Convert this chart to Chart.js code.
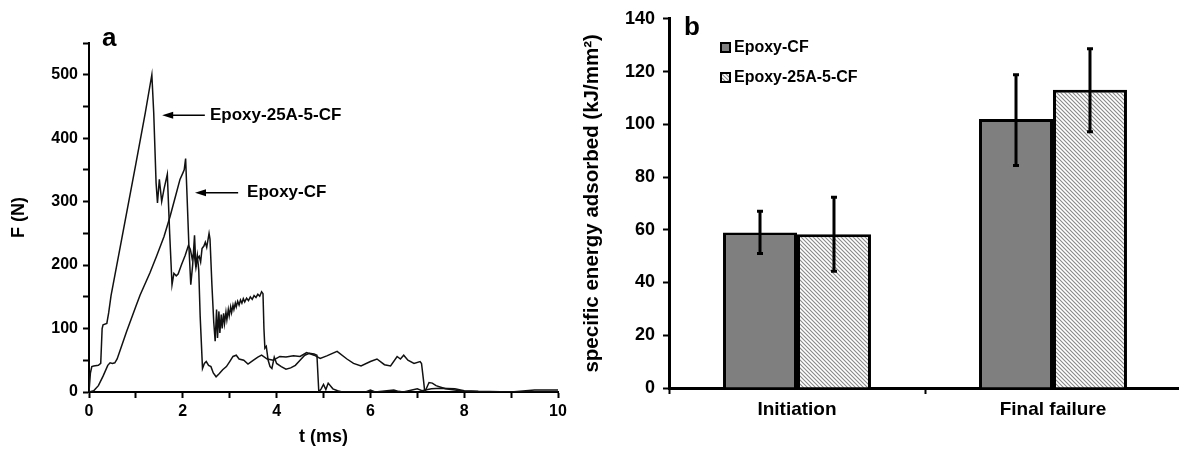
<!DOCTYPE html>
<html>
<head>
<meta charset="utf-8">
<script src="https://cdn.jsdelivr.net/npm/chart.js@4.4.0/dist/chart.umd.min.js"></script>
<style>
  body { margin: 0; width: 1179px; height: 449px; overflow: hidden; background: #fff; position: relative; }
  #forceWrap { position: absolute; left: 0; top: 0; }
  #energyWrap { position: absolute; left: 560px; top: 0; }
</style>
</head>
<body>
<div id="forceWrap"><canvas id="force-chart" width="580" height="449"></canvas></div>
<div id="energyWrap"><canvas id="energy-chart" width="640" height="449"></canvas></div>
<script>
// Panel a: force vs time
const a25Time = [
  0, 0.03, 0.06, 0.1, 0.2, 0.25, 0.28, 0.3, 0.38, 0.42, 0.47, 0.7, 1.0, 1.2, 1.34,
  1.38, 1.43, 1.46, 1.5, 1.55, 1.6, 1.67, 1.72, 1.77, 1.81, 1.86, 1.9, 1.97, 2.05,
  2.12, 2.16, 2.2, 2.24, 2.28, 2.31, 2.35, 2.38, 2.41, 2.45, 2.48, 2.51, 2.56, 2.58,
  2.62, 2.66, 2.69, 2.72, 2.74, 2.77, 2.79, 2.82, 2.84, 2.87, 2.89, 2.92, 2.94, 2.97,
  2.99, 3.02, 3.04, 3.07, 3.09, 3.12, 3.14, 3.17, 3.2, 3.23, 3.26, 3.29, 3.32, 3.36,
  3.4, 3.44, 3.48, 3.52, 3.56, 3.6, 3.64, 3.68, 3.71, 3.73, 3.75, 3.78, 3.82, 3.86,
  3.9, 3.95, 4.0, 4.1, 4.2, 4.3, 4.4, 4.5, 4.6, 4.7, 4.8, 4.86, 4.9, 4.95, 5.0,
  5.05, 5.1, 5.2, 5.3, 5.4, 5.9, 6.0, 6.1, 6.5, 6.6, 6.7, 7.0, 7.1, 7.3, 7.5, 7.8,
  8.0, 8.3, 9.0, 9.5, 10,
];
const a25Force = [
  0, 30, 40, 41, 42, 45, 100, 106, 108, 125, 152, 242, 360, 440, 500,
  440, 330, 298, 335, 300, 320, 343, 250, 169, 187, 183, 186, 200, 215,
  231, 225, 210, 220, 196, 210, 214, 205, 226, 230, 236, 228, 250, 241,
  170, 110, 80, 130, 85, 127, 93, 122, 100, 124, 108, 126, 114, 130,
  120, 134, 125, 137, 130, 140, 134, 143, 137, 145, 140, 147, 142, 148,
  144, 150, 146, 152, 149, 154, 151, 158, 155, 100, 69, 72, 50, 40,
  37, 55, 45, 40, 36, 38, 42, 50, 58, 61, 60, 58, 0, 5, 12,
  4, 14, 5, 2, 0, 0, 3, 0, 3, 1, 0, 5, 2, 5, 6, 5,
  2, 1, 0, 3, 3,
];
const cfTime = [
  0, 0.1, 0.2, 0.3, 0.4, 0.45, 0.5, 0.55, 0.6, 0.8, 1.0, 1.09, 1.3, 1.44, 1.6,
  1.73, 1.85, 1.94, 2.0, 2.03, 2.06, 2.09, 2.13, 2.17, 2.21, 2.25, 2.28, 2.31,
  2.34, 2.37, 2.42, 2.46, 2.5, 2.55, 2.6, 2.65, 2.71, 2.78, 2.85, 2.93, 3.0, 3.07,
  3.14, 3.2, 3.3, 3.39, 3.5, 3.6, 3.68, 3.8, 3.93, 4.07, 4.2, 4.36, 4.5, 4.64,
  4.8, 4.93, 5.07, 5.29, 5.5, 5.64, 5.8, 6.0, 6.14, 6.3, 6.43, 6.57, 6.64, 6.71,
  6.8, 6.93, 7.06, 7.09, 7.13, 7.16, 7.25, 7.32, 7.4, 7.6, 7.8, 8.0, 8.5, 10,
];
const cfForce = [
  0, 2, 10, 25, 42, 46, 45, 46, 52, 95, 135, 153, 188, 214, 245,
  277, 310, 335, 345, 350, 368, 310, 230, 169, 200, 247, 197, 215,
  192, 120, 37, 45, 48, 42, 40, 30, 24, 29, 35, 40, 48, 56,
  58, 52, 50, 44, 50, 55, 58, 52, 50, 56, 55, 57, 56, 62,
  58, 53, 57, 64, 52, 45, 41, 48, 52, 43, 41, 56, 52, 58,
  50, 45, 48, 45, 20, 0, 15, 14, 10, 5, 3, 1, 0, 0,
];

// Panel b: specific energy
const stages = ["Initiation", "Final failure"];
const cfEnergy = [59, 102];
const cfEnergyLow = [51, 84.4];
const cfEnergyHigh = [67, 118.8];
const a25Energy = [58.3, 113.1];
const a25EnergyLow = [44.3, 97.2];
const a25EnergyHigh = [72.3, 128.6];

const fontFamily = "'Liberation Sans', Arial, sans-serif";

const curveNotes = [
  { text: "Epoxy-25A-5-CF", tipT: 1.56, tailT: 2.47, textT: 2.58, force: 436 },
  { text: "Epoxy-CF", tipT: 2.26, tailT: 3.18, textT: 3.37, force: 314 },
];

const panelLetter = {
  id: "panelLetter",
  afterDraw(chart, args, opts) {
    const ctx = chart.ctx;
    ctx.save();
    ctx.font = "bold 26px " + fontFamily;
    ctx.fillStyle = "#000";
    ctx.fillText(opts.text, opts.x, opts.y);
    ctx.restore();
  },
};

const arrowLabels = {
  id: "arrowLabels",
  afterDatasetsDraw(chart) {
    const { ctx, scales: { x, y } } = chart;
    ctx.save();
    ctx.strokeStyle = "#000";
    ctx.fillStyle = "#000";
    ctx.lineWidth = 1.5;
    ctx.font = "bold 17px " + fontFamily;
    ctx.textBaseline = "middle";
    curveNotes.forEach((n) => {
      const tipX = x.getPixelForValue(n.tipT);
      const tailX = x.getPixelForValue(n.tailT);
      const py = y.getPixelForValue(n.force);
      ctx.beginPath();
      ctx.moveTo(tailX, py);
      ctx.lineTo(tipX + 8, py);
      ctx.stroke();
      ctx.beginPath();
      ctx.moveTo(tipX, py);
      ctx.lineTo(tipX + 11, py - 3.5);
      ctx.lineTo(tipX + 11, py + 3.5);
      ctx.closePath();
      ctx.fill();
      ctx.fillText(n.text, x.getPixelForValue(n.textT), py);
    });
    ctx.restore();
  },
};

const errorBars = {
  id: "errorBars",
  afterDatasetsDraw(chart) {
    const { ctx, scales: { y } } = chart;
    ctx.save();
    ctx.strokeStyle = "#000";
    ctx.lineWidth = 3;
    chart.data.datasets.forEach((ds, di) => {
      chart.getDatasetMeta(di).data.forEach((bar, i) => {
        const top = y.getPixelForValue(ds.errHigh[i]);
        const bot = y.getPixelForValue(ds.errLow[i]);
        ctx.beginPath();
        ctx.moveTo(bar.x, top);
        ctx.lineTo(bar.x, bot);
        ctx.moveTo(bar.x - 3, top);
        ctx.lineTo(bar.x + 3, top);
        ctx.moveTo(bar.x - 3, bot);
        ctx.lineTo(bar.x + 3, bot);
        ctx.stroke();
      });
    });
    ctx.restore();
  },
};

const boxLegend = {
  id: "boxLegend",
  afterDraw(chart) {
    const ctx = chart.ctx;
    ctx.save();
    ctx.font = "bold 16px " + fontFamily;
    ctx.textBaseline = "middle";
    chart.data.datasets.forEach((ds, i) => {
      const bx = 160, by = 42 + i * 30;
      ctx.fillStyle = ds.backgroundColor;
      ctx.fillRect(bx, by, 11, 11);
      ctx.strokeStyle = "#000";
      ctx.lineWidth = 2;
      ctx.strokeRect(bx + 1, by + 1, 9, 9);
      ctx.fillStyle = "#000";
      ctx.fillText(ds.label, bx + 14, by + 6);
    });
    ctx.restore();
  },
};

// hatch for the second series
function makeHatch() {
  const c = document.createElement("canvas");
  c.width = 4;
  c.height = 4;
  const g = c.getContext("2d");
  g.fillStyle = "#fff";
  g.fillRect(0, 0, 4, 4);
  g.strokeStyle = "#888";
  g.lineWidth = 1.1;
  g.beginPath();
  g.moveTo(0, 0); g.lineTo(4, 4);
  g.moveTo(-1, 3); g.lineTo(1, 5);
  g.moveTo(3, -1); g.lineTo(5, 1);
  g.stroke();
  return g.createPattern(c, "repeat");
}

const tickFont = (size) => ({ family: fontFamily, size: size, weight: "bold" });

new Chart(document.getElementById("force-chart"), {
  type: "line",
  data: {
    datasets: [
      {
        label: "Epoxy-25A-5-CF",
        data: a25Time.map((t, i) => ({ x: t, y: a25Force[i] })),
        borderColor: "#111",
        borderWidth: 1.5,
        pointRadius: 0,
        tension: 0,
      },
      {
        label: "Epoxy-CF",
        data: cfTime.map((t, i) => ({ x: t, y: cfForce[i] })),
        borderColor: "#111",
        borderWidth: 1.5,
        pointRadius: 0,
        tension: 0,
      },
    ],
  },
  options: {
    responsive: false,
    animation: false,
    layout: { padding: { top: 43, right: 22, left: 0, bottom: 0 } },
    plugins: {
      legend: { display: false },
      tooltip: { enabled: false },
      panelLetter: { text: "a", x: 102, y: 46 },
    },
    scales: {
      x: {
        type: "linear",
        min: 0,
        max: 10,
        afterFit: (s) => { s.height = 57; },
        border: { display: true, color: "#000", width: 2 },
        grid: { drawOnChartArea: false, color: "#000", tickLength: 6, tickWidth: 2 },
        ticks: {
          stepSize: 1,
          color: "#000",
          font: tickFont(16),
          padding: 4,
          maxRotation: 0,
          callback: (v) => (v % 2 === 0 ? v : ""),
        },
        title: { display: true, text: "t (ms)", color: "#000", font: tickFont(18), padding: { top: 0, bottom: 1 } },
      },
      y: {
        min: 0,
        max: 550,
        afterFit: (s) => { s.width = 89; },
        border: { display: true, color: "#000", width: 2 },
        grid: { drawOnChartArea: false, color: "#000", tickLength: 6, tickWidth: 2 },
        ticks: {
          stepSize: 50,
          color: "#000",
          font: tickFont(16),
          padding: 5,
          callback: (v) => (v % 100 === 0 ? v : ""),
        },
        title: { display: true, text: "F (N)", color: "#000", font: tickFont(18), padding: { top: 8, bottom: 0 } },
      },
    },
  },
  plugins: [arrowLabels, panelLetter],
});

new Chart(document.getElementById("energy-chart"), {
  type: "bar",
  data: {
    labels: stages,
    datasets: [
      {
        label: "Epoxy-CF",
        data: cfEnergy,
        errLow: cfEnergyLow,
        errHigh: cfEnergyHigh,
        backgroundColor: "#7f7f7f",
        borderColor: "#000",
        borderWidth: 3,
      },
      {
        label: "Epoxy-25A-5-CF",
        data: a25Energy,
        errLow: a25EnergyLow,
        errHigh: a25EnergyHigh,
        backgroundColor: makeHatch(),
        borderColor: "#000",
        borderWidth: 3,
      },
    ],
  },
  options: {
    responsive: false,
    animation: false,
    layout: { padding: { top: 18, right: 19, left: 0, bottom: 0 } },
    datasets: { bar: { categoryPercentage: 0.578, barPercentage: 1 } },
    plugins: {
      legend: { display: false },
      tooltip: { enabled: false },
      panelLetter: { text: "b", x: 124, y: 35 },
    },
    scales: {
      x: {
        afterFit: (s) => { s.height = 61; },
        border: { display: true, color: "#000", width: 3 },
        grid: { drawOnChartArea: false, offset: true, color: "#000", tickLength: 6, tickWidth: 2 },
        ticks: { color: "#000", font: tickFont(19), padding: 4 },
      },
      y: {
        min: 0,
        max: 140,
        afterFit: (s) => { s.width = 109; },
        border: { display: true, color: "#000", width: 3 },
        grid: { drawOnChartArea: false, color: "#000", tickLength: 6, tickWidth: 2 },
        ticks: { stepSize: 20, color: "#000", font: tickFont(18), padding: 8 },
        title: {
          display: true,
          text: "specific energy adsorbed (kJ/mm²)",
          color: "#000",
          font: tickFont(20.5),
          padding: { top: 20, bottom: 0 },
        },
      },
    },
  },
  plugins: [errorBars, boxLegend, panelLetter],
});
</script>
</body>
</html>
